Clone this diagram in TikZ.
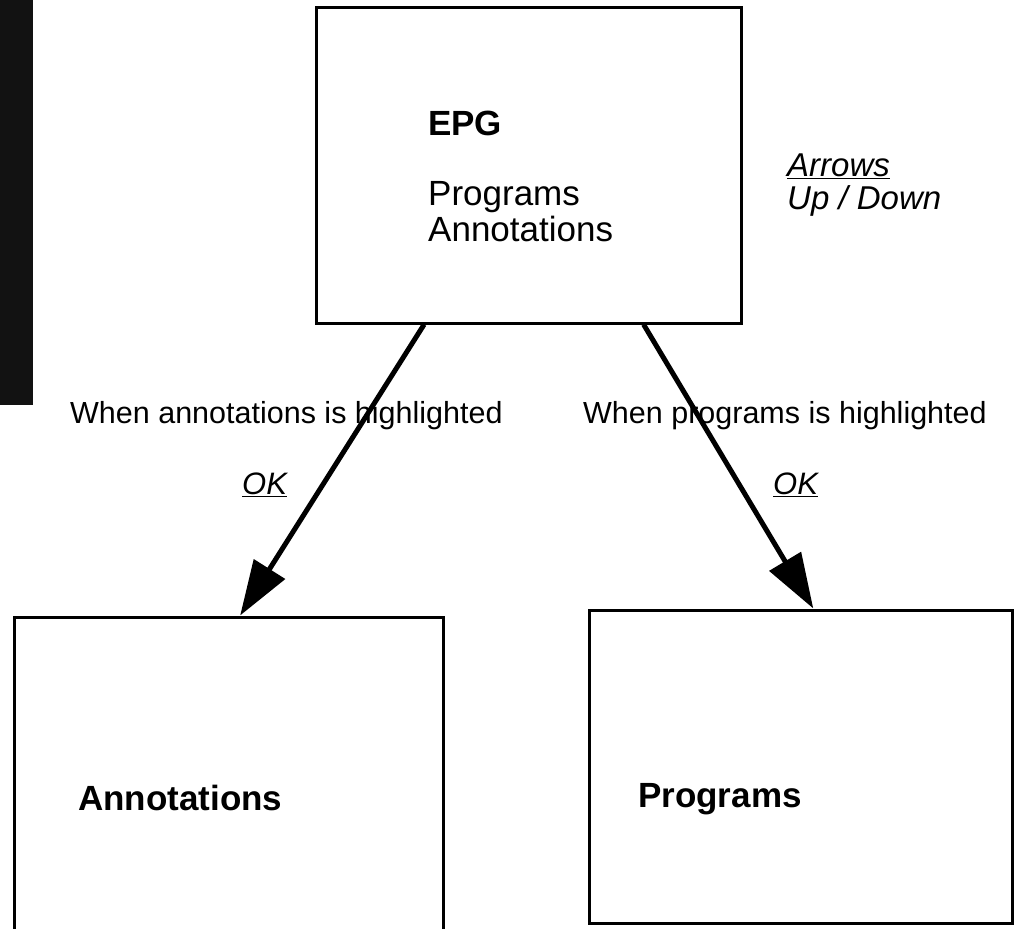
\documentclass[tikz,border=0pt]{standalone}
\usepackage{fontspec}
\setmainfont{Liberation Sans}
\usetikzlibrary{arrows.meta,calc}

\tikzset{
  screen/.style={draw=black, line width=3pt, fill=none, inner sep=0pt},
  txt/.style={inner sep=0pt, anchor=base west},
  heading/.style={txt, font=\fontsize{35}{42}\selectfont\bfseries},
  body/.style={txt, font=\fontsize{35}{42}\selectfont},
  cond/.style={txt, font=\fontsize{30.5}{36}\selectfont},
  keyname/.style={txt, font=\fontsize{31}{36}\selectfont\itshape},
  keyhint/.style={txt, font=\fontsize{33}{38}\selectfont\itshape},
  flow/.style={line width=5pt, -{Triangle[length=55pt,width=36pt]}}
}

\begin{document}
\begin{tikzpicture}[x=1pt, y=-1pt]
  \clip (0,0) rectangle (1026,929);
  \fill[white] (0,0) rectangle (1026,929);

  % dark binding strip on the left margin
  \fill[black!93] (0,0) rectangle (33,405);

  % screens
  \node[screen, minimum width=425pt, minimum height=316pt] (epg) at (528.5,165) {};
  \node[screen, minimum width=429pt, minimum height=340pt] (ann) at (228.5,787) {};
  \node[screen, minimum width=423pt, minimum height=313pt] (prog) at (800.5,766.5) {};

  % EPG screen contents
  \node[heading] (epgtitle) at (428,135) {EPG};
  \node[body] (epgprog) at (428,205) {Programs};
  \node[body] (epgann) at (428,241) {Annotations};

  % key hint beside the EPG screen
  \node[keyhint] (arrowskey) at (787,176) {\underline{Arrows}};
  \node[keyhint] (updown) at (787,209) {Up / Down};

  % target screen titles
  \node[heading] (anntitle) at (78,810) {Annotations};
  \node[heading] (progtitle) at (638,807) {Programs};

  % transition conditions
  \node[cond] (condann) at (70,423) {When annotations is highlighted};
  \node[cond] (condprog) at (583,423) {When programs is highlighted};
  \node[keyname] (okann) at (242,494) {\underline{OK}};
  \node[keyname] (okprog) at (773,494) {\underline{OK}};

  % transitions
  \draw[flow] ($(epg.south west)!0.256!(epg.south east)$)
           -- ($(ann.north west)!0.527!(ann.north east)$);
  \draw[flow] ($(epg.south west)!0.769!(epg.south east)$)
           -- ($(prog.north west)!0.53!(prog.north east)$);
\end{tikzpicture}
\end{document}
